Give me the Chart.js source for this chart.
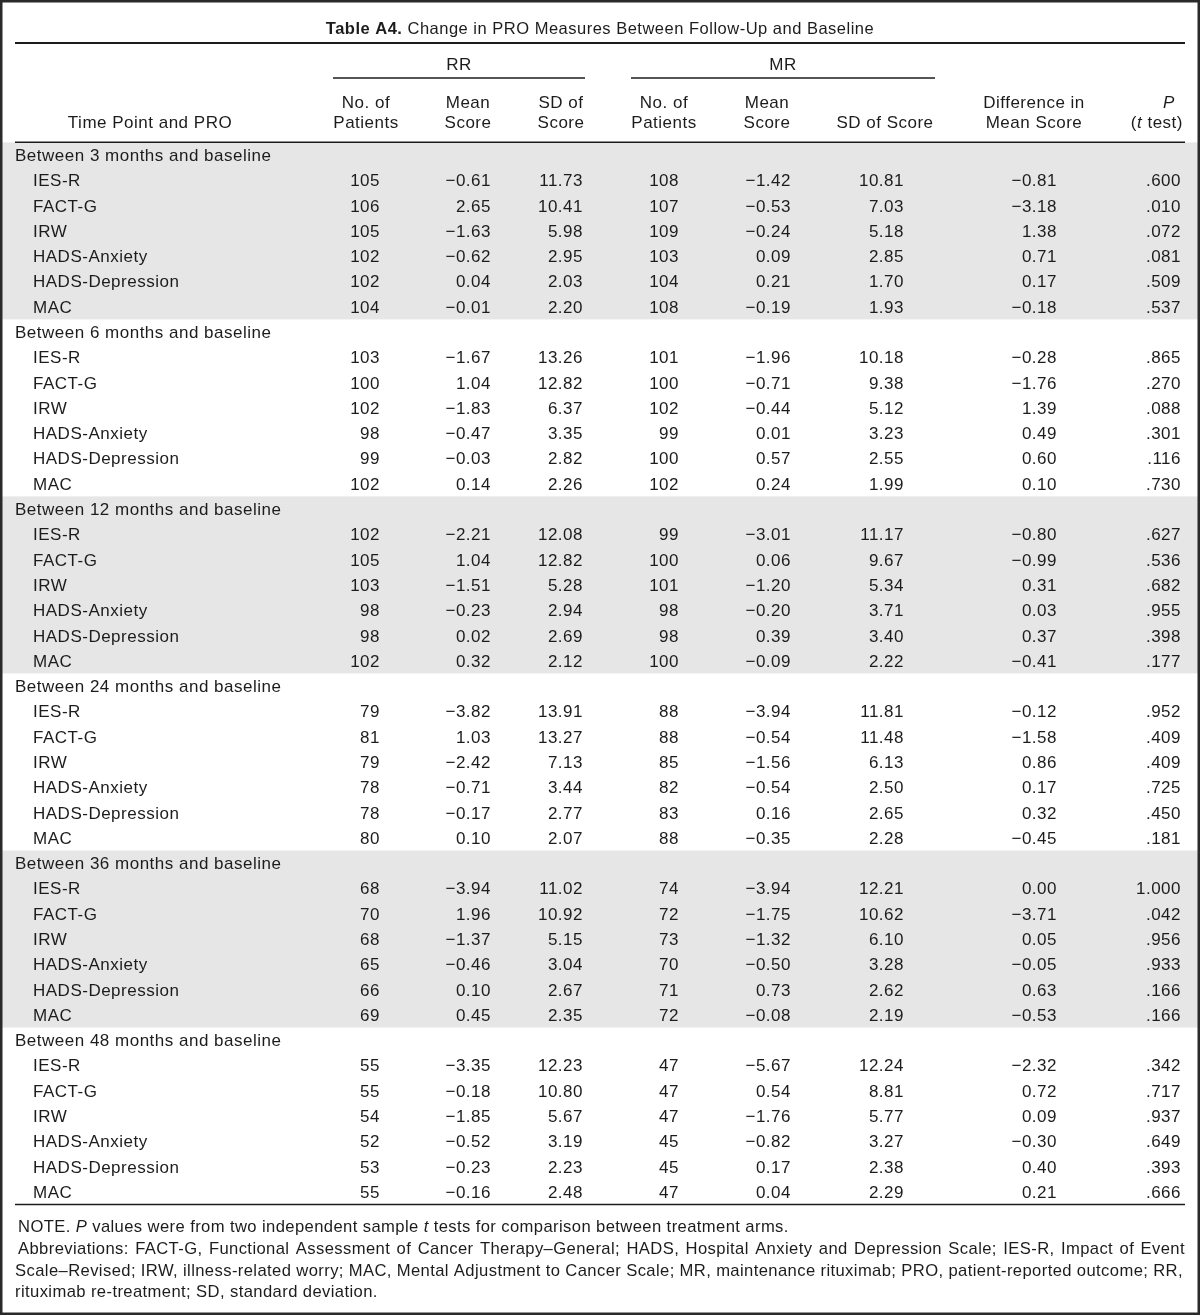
<!DOCTYPE html>
<html><head><meta charset="utf-8">
<script src="https://cdn.jsdelivr.net/npm/chart.js@4.4.1/dist/chart.umd.min.js"></script>
<style>html,body{margin:0;padding:0;background:#fff}#wrap{width:1200px;height:1315px;position:relative}</style>
</head><body><div id="wrap"><canvas id="c"></canvas></div>
<script>
// ---------- DATA ----------
const titleBold = 'Table A4.';
const titleText = ' Change in PRO Measures Between Follow-Up and Baseline';
const timePoints = ['Between 3 months and baseline','Between 6 months and baseline','Between 12 months and baseline','Between 24 months and baseline','Between 36 months and baseline','Between 48 months and baseline'];
const measures = ['IES-R','FACT-G','IRW','HADS-Anxiety','HADS-Depression','MAC'];
const rrN = [105,106,105,102,102,104, 103,100,102,98,99,102, 102,105,103,98,98,102, 79,81,79,78,78,80, 68,70,68,65,66,69, 55,55,54,52,53,55];
const rrMean = [-0.61,2.65,-1.63,-0.62,0.04,-0.01, -1.67,1.04,-1.83,-0.47,-0.03,0.14, -2.21,1.04,-1.51,-0.23,0.02,0.32, -3.82,1.03,-2.42,-0.71,-0.17,0.10, -3.94,1.96,-1.37,-0.46,0.10,0.45, -3.35,-0.18,-1.85,-0.52,-0.23,-0.16];
const rrSD = [11.73,10.41,5.98,2.95,2.03,2.20, 13.26,12.82,6.37,3.35,2.82,2.26, 12.08,12.82,5.28,2.94,2.69,2.12, 13.91,13.27,7.13,3.44,2.77,2.07, 11.02,10.92,5.15,3.04,2.67,2.35, 12.23,10.80,5.67,3.19,2.23,2.48];
const mrN = [108,107,109,103,104,108, 101,100,102,99,100,102, 99,100,101,98,98,100, 88,88,85,82,83,88, 74,72,73,70,71,72, 47,47,47,45,45,47];
const mrMean = [-1.42,-0.53,-0.24,0.09,0.21,-0.19, -1.96,-0.71,-0.44,0.01,0.57,0.24, -3.01,0.06,-1.20,-0.20,0.39,-0.09, -3.94,-0.54,-1.56,-0.54,0.16,-0.35, -3.94,-1.75,-1.32,-0.50,0.73,-0.08, -5.67,0.54,-1.76,-0.82,0.17,0.04];
const mrSD = [10.81,7.03,5.18,2.85,1.70,1.93, 10.18,9.38,5.12,3.23,2.55,1.99, 11.17,9.67,5.34,3.71,3.40,2.22, 11.81,11.48,6.13,2.50,2.65,2.28, 12.21,10.62,6.10,3.28,2.62,2.19, 12.24,8.81,5.77,3.27,2.38,2.29];
const diffMean = [-0.81,-3.18,1.38,0.71,0.17,-0.18, -0.28,-1.76,1.39,0.49,0.60,0.10, -0.80,-0.99,0.31,0.03,0.37,-0.41, -0.12,-1.58,0.86,0.17,0.32,-0.45, 0.00,-3.71,0.05,-0.05,0.63,-0.53, -2.32,0.72,0.09,-0.30,0.40,0.21];
const pValue = [0.600,0.010,0.072,0.081,0.509,0.537, 0.865,0.270,0.088,0.301,0.116,0.730, 0.627,0.536,0.682,0.955,0.398,0.177, 0.952,0.409,0.409,0.725,0.450,0.181, 1.000,0.042,0.956,0.933,0.166,0.166, 0.342,0.717,0.937,0.649,0.393,0.666];
const groupHeaders = ['RR','MR'];
const colHeaders = [['Time Point and PRO'],['No. of','Patients'],['Mean','Score'],['SD of','Score'],['No. of','Patients'],['Mean','Score'],['SD of Score'],['Difference in','Mean Score'],['P','(t test)']];
const notes = [
  [['NOTE. ',0],['P',1],[' values were from two independent sample ',0],['t',1],[' tests for comparison between treatment arms.',0]],
  [['Abbreviations: FACT-G, Functional Assessment of Cancer Therapy\u2013General; HADS, Hospital Anxiety and Depression Scale; IES-R, Impact of Event',0]],
  [['Scale\u2013Revised; IRW, illness-related worry; MAC, Mental Adjustment to Cancer Scale; MR, maintenance rituximab; PRO, patient-reported outcome; RR,',0]],
  [['rituximab re-treatment; SD, standard deviation.',0]]
];

// ---------- LAYOUT ----------
const W = 1200, H = 1315;
const ROW0 = 155, ROWH = 25.29;           // first body row centre and row pitch (px)
const FAM = '"Liberation Sans", Arial, Helvetica, sans-serif';
const BODY_FONT = '17px ' + FAM;
const LS = '0.5px';
const NOTE_LS = '0.4px';
const INK = '#1c1c1c';
const SHADE = '#e6e6e6';
const LABEL_X = {group: 15, item: 33};
const COL_RIGHT = [380, 491, 583, 679, 791, 904, 1057, 1181];
const HDR_CENTER = [150, 366, 468, 561, 664, 767, 885, 1034, 1163];
const RULE_L = 15, RULE_R = 1185;

const fmtNum = v => (v < 0 ? '\u2212' : '') + Math.abs(v).toFixed(2);
const fmtP = v => v >= 1 ? v.toFixed(3) : v.toFixed(3).replace(/^0/, '');

// build rows
const labelPts = [];
const colPts = COL_RIGHT.map(() => []);
const colsData = [rrN, rrMean, rrSD, mrN, mrMean, mrSD, diffMean, pValue];
const colsFmt = [v => String(v), fmtNum, v => v.toFixed(2), v => String(v), fmtNum, v => v.toFixed(2), fmtNum, fmtP];
timePoints.forEach((tp, g) => {
  const r0 = g * 7;
  labelPts.push({x: LABEL_X.group, y: r0, t: tp});
  measures.forEach((m, k) => {
    const r = r0 + 1 + k, i = g * 6 + k;
    labelPts.push({x: LABEL_X.item, y: r, t: m});
    colsData.forEach((arr, c) => colPts[c].push({x: COL_RIGHT[c], y: r, t: colsFmt[c](arr[i])}));
  });
});

const datasets = [{label: 'labels', data: labelPts, align: 'left'}].concat(
  colPts.map((d, c) => ({label: 'col' + c, data: d, align: 'right'}))
).map(ds => Object.assign(ds, {pointRadius: 0, pointHoverRadius: 0, showLine: false}));

function txt(ctx, s, x, y, font, align) {
  ctx.font = font; ctx.textAlign = align || 'left'; ctx.fillText(s, x, y);
}
function runsWidth(ctx, runs, size) {
  let w = 0;
  runs.forEach(([s, it]) => { ctx.font = (it ? 'italic ' : '') + size + 'px ' + FAM; w += ctx.measureText(s).width; });
  return w;
}
function drawRuns(ctx, runs, x, y, size) {
  ctx.textAlign = 'left';
  runs.forEach(([s, it]) => { ctx.font = (it ? 'italic ' : '') + size + 'px ' + FAM; ctx.fillText(s, x, y); x += ctx.measureText(s).width; });
}
function drawJustified(ctx, s, x0, x1, y, size) {
  ctx.font = size + 'px ' + FAM; ctx.textAlign = 'left';
  const words = s.split(' ');
  const ws = words.map(w => ctx.measureText(w).width);
  const tot = ws.reduce((a, b) => a + b, 0);
  const gap = (x1 - x0 - tot) / (words.length - 1);
  let x = x0;
  words.forEach((w, i) => { ctx.fillText(w, x, y); x += ws[i] + gap; });
}

const tablePlugin = {
  id: 'tableDraw',
  beforeDatasetsDraw(chart) {
    const ctx = chart.ctx, ys = chart.scales.y, xs = chart.scales.x;
    ctx.save();
    ctx.fillStyle = SHADE;
    timePoints.forEach((tp, g) => {
      if (g % 2) return;
      const top = ys.getPixelForValue(g * 7 - 0.5), bot = ys.getPixelForValue(g * 7 + 6.5);
      ctx.fillRect(xs.getPixelForValue(0), top, xs.getPixelForValue(W) - xs.getPixelForValue(0), bot - top);
    });
    ctx.restore();
  },
  afterDatasetsDraw(chart) {
    const ctx = chart.ctx, ys = chart.scales.y;
    ctx.save();
    ctx.fillStyle = INK; ctx.strokeStyle = INK;
    ctx.textBaseline = 'alphabetic';
    try { ctx.letterSpacing = LS; } catch (e) {}
    const BASE = 6; // baseline offset from row centre
    // cells, placed at the library's point elements
    chart.data.datasets.forEach((ds, di) => {
      const meta = chart.getDatasetMeta(di);
      meta.data.forEach((el, j) => {
        txt(ctx, ds.data[j].t, el.x, el.y + BASE, BODY_FONT, ds.align);
      });
    });
    // title
    const TB = 'bold 16.5px "Liberation Sans Narrow", ' + FAM, TR = '16.5px ' + FAM;
    ctx.font = TB;
    const wb = ctx.measureText(titleBold).width;
    ctx.font = TR;
    const wt = ctx.measureText(titleText).width;
    let tx = 600 - (wb + wt) / 2;
    ctx.textAlign = 'left';
    ctx.font = TB; ctx.fillText(titleBold, tx, 34);
    ctx.font = TR; ctx.fillText(titleText, tx + wb, 34);
    // rules
    const line = (x0, x1, y, w) => { ctx.lineWidth = w; ctx.beginPath(); ctx.moveTo(x0, y); ctx.lineTo(x1, y); ctx.stroke(); };
    line(RULE_L, RULE_R, 43, 2);
    line(333, 585, 78, 1.5);
    line(631, 935, 78, 1.5);
    line(RULE_L, RULE_R, ys.getPixelForValue(-0.5), 1.5);
    line(RULE_L, RULE_R, ys.getPixelForValue(41.5), 1.5);
    // group headers
    txt(ctx, groupHeaders[0], 459, 70, BODY_FONT, 'center');
    txt(ctx, groupHeaders[1], 783, 70, BODY_FONT, 'center');
    // column headers
    colHeaders.forEach((h, c) => {
      if (c === 8) {
        txt(ctx, 'P', HDR_CENTER[c] + 6, 108, 'italic 17px ' + FAM, 'center');
        const runs = [['(', 0], ['t', 1], [' test)', 0]];
        const w = runsWidth(ctx, runs, 17);
        drawRuns(ctx, runs, 1183 - w, 128, 17);
        return;
      }
      if (h.length === 1) txt(ctx, h[0], HDR_CENTER[c], 128, BODY_FONT, 'center');
      else { txt(ctx, h[0], HDR_CENTER[c], 108, BODY_FONT, 'center'); txt(ctx, h[1], HDR_CENTER[c], 128, BODY_FONT, 'center'); }
    });
    // notes
    try { ctx.letterSpacing = NOTE_LS; } catch (e) {}
    const NS = 16.6;
    drawRuns(ctx, notes[0], 18, 1232, NS);
    drawJustified(ctx, notes[1][0][0], 18, 1185, 1254, NS);
    drawJustified(ctx, notes[2][0][0], 15, 1183, 1276, NS);
    drawRuns(ctx, notes[3], 15, 1297, NS);
    // frame
    ctx.lineWidth = 2.5; ctx.strokeStyle = '#2a2a2a';
    ctx.strokeRect(1.25, 1.25, W - 2.5, H - 2.5);
    ctx.restore();
  }
};

new Chart(document.getElementById('c'), {
  type: 'scatter',
  data: {datasets},
  options: {
    responsive: true, maintainAspectRatio: false, animation: false,
    layout: {padding: 0},
    events: [],
    plugins: {legend: {display: false}, tooltip: {enabled: false}, title: {display: false}},
    scales: {
      x: {type: 'linear', min: 0, max: W, display: false},
      y: {type: 'linear', reverse: true, min: -ROW0 / ROWH, max: (H - ROW0) / ROWH, display: false}
    }
  },
  plugins: [tablePlugin]
});
</script></body></html>
